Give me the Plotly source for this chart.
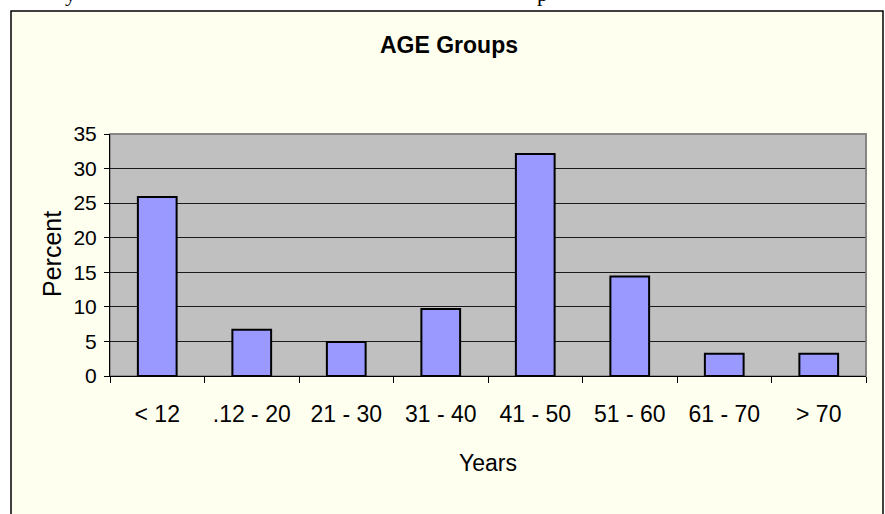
import plotly.graph_objects as go

categories = ["< 12", ".12 - 20", "21 - 30", "31 - 40", "41 - 50", "51 - 60", "61 - 70", "> 70"]
percent = [25.9, 6.7, 4.9, 9.7, 32.1, 14.4, 3.2, 3.2]
y_ticks = [0, 5, 10, 15, 20, 25, 30, 35]

W, H = 885, 514
L, R, T, B = 110, 19, 134, 138
PW = W - L - R
PH = H - T - B

ARIAL = "Liberation Sans, Arial, sans-serif"
SERIF = "Liberation Serif, Times New Roman, serif"


def px(x):
    # pixel column -> paper x
    return (x - L) / PW


def py(y):
    # pixel row -> paper y
    return (H - B - y) / PH


fig = go.Figure(
    go.Bar(
        x=categories,
        y=percent,
        marker=dict(color="#9999FF", line=dict(color="black", width=2)),
        hovertemplate="%{x}: %{y}%<extra></extra>",
    )
)

shapes = [
    # chart area box
    dict(type="rect", xref="paper", yref="paper", layer="below",
         x0=px(11), x1=px(883), y0=py(540), y1=py(11),
         fillcolor="#FFFFF0", line=dict(color="black", width=1.5)),
    # plot area
    dict(type="rect", xref="paper", yref="paper", layer="below",
         x0=0, x1=1, y0=0, y1=1,
         fillcolor="#C0C0C0", line=dict(color="#808080", width=1.5)),
    # grey top/right border of plot area
    dict(type="path", xref="paper", yref="paper", layer="above",
         path="M 0 1 L 1 1 L 1 0", line=dict(color="#808080", width=1.5)),
]

annotations = [
    dict(text="Years", xref="paper", yref="paper", x=0.5, y=py(463),
         xanchor="center", yanchor="middle", showarrow=False,
         font=dict(family=ARIAL, size=23, color="black")),
    dict(text="Percent", xref="paper", yref="paper", x=px(52), y=py(254),
         xanchor="center", yanchor="middle", textangle=-90, showarrow=False,
         font=dict(family=ARIAL, size=25, color="black")),
    # descenders of the document line cut off above the chart
    dict(text="y", xref="paper", yref="paper", x=px(70), y=py(8),
         xanchor="center", yanchor="bottom", showarrow=False,
         font=dict(family=SERIF, size=22, color="black")),
    dict(text="p", xref="paper", yref="paper", x=px(542), y=py(8),
         xanchor="center", yanchor="bottom", showarrow=False,
         font=dict(family=SERIF, size=22, color="black")),
]

fig.update_layout(
    width=W,
    height=H,
    margin=dict(l=L, r=R, t=T, b=B),
    paper_bgcolor="white",
    plot_bgcolor="#C0C0C0",
    bargap=0.59,
    showlegend=False,
    title=dict(text="<b>AGE Groups</b>", xref="container", yref="container",
               x=449 / W, y=1 - 45 / H, xanchor="center", yanchor="middle",
               font=dict(family=ARIAL, size=23, color="black")),
    shapes=shapes,
    annotations=annotations,
    xaxis=dict(
        type="category",
        tickson="boundaries",
        ticks="outside",
        ticklen=6,
        tickcolor="black",
        showline=True,
        linecolor="black",
        linewidth=1,
        showgrid=False,
        ticklabelstandoff=17,
        tickfont=dict(family=ARIAL, size=23, color="black"),
    ),
    yaxis=dict(
        range=[0, 35],
        tickvals=y_ticks,
        ticks="outside",
        ticklen=5,
        tickcolor="black",
        showline=True,
        linecolor="black",
        linewidth=1,
        showgrid=True,
        gridcolor="#1a1a1a",
        gridwidth=1,
        zeroline=False,
        ticklabelstandoff=3,
        tickfont=dict(family=ARIAL, size=21, color="black"),
    ),
)

# drop the default 8px body margin so the figure sits at the page origin
fig.write_html(
    "out.html",
    config={"displayModeBar": False},
    post_script="document.body.style.margin='0';",
)
